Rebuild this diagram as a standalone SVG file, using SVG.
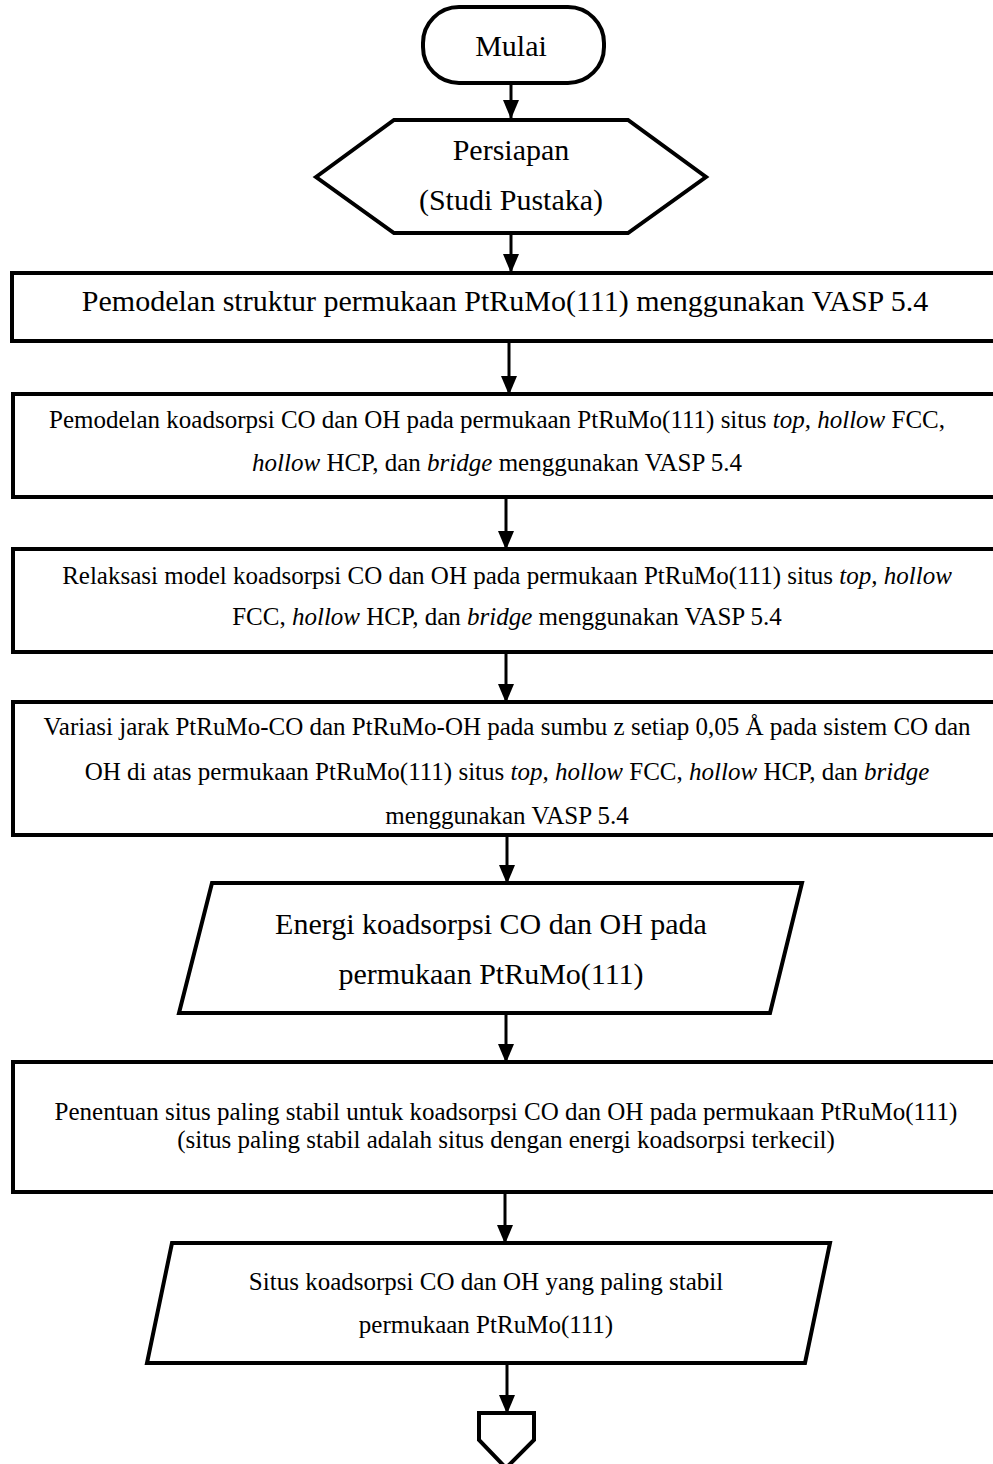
<svg xmlns="http://www.w3.org/2000/svg" width="993" height="1464" viewBox="0 0 993 1464">
<style>
.s{fill:#fff;stroke:#000;stroke-width:4;stroke-linejoin:miter}
.t{font-family:"Liberation Serif","Times New Roman",serif;fill:#000;text-anchor:middle}
.L{font-size:30px}
.M{font-size:25px}
.i{font-style:italic}
.c{stroke:#000;stroke-width:3;fill:none}
</style>
<defs>
<marker id="ah" markerWidth="19" markerHeight="16" refX="18" refY="8" orient="auto" markerUnits="userSpaceOnUse" viewBox="0 0 19 16">
<path d="M0,0 L19,8 L0,16 z" fill="#000"/>
</marker>
</defs>
<rect width="993" height="1464" fill="#fff"/>
<g id="connectors">
<line class="c" x1="511" y1="83" x2="511" y2="118" marker-end="url(#ah)"/>
<line class="c" x1="511" y1="233" x2="511" y2="272" marker-end="url(#ah)"/>
<line class="c" x1="509" y1="341" x2="509" y2="394" marker-end="url(#ah)"/>
<line class="c" x1="506" y1="497" x2="506" y2="549" marker-end="url(#ah)"/>
<line class="c" x1="506" y1="652" x2="506" y2="702" marker-end="url(#ah)"/>
<line class="c" x1="507" y1="835" x2="507" y2="883" marker-end="url(#ah)"/>
<line class="c" x1="506" y1="1013" x2="506" y2="1062" marker-end="url(#ah)"/>
<line class="c" x1="505" y1="1192" x2="505" y2="1243" marker-end="url(#ah)"/>
<line class="c" x1="507" y1="1363" x2="507" y2="1413" marker-end="url(#ah)"/>
</g>
<g id="mulai">
<rect class="s" x="423" y="7" width="181" height="76" rx="36" ry="36"/>
<text class="t L" x="511" y="56">Mulai</text>
</g>
<g id="persiapan">
<polygon class="s" points="316,177 394,120 628,120 706,177 628,233 394,233"/>
<text class="t L" x="511" y="160">Persiapan</text>
<text class="t L" x="511" y="210">(Studi Pustaka)</text>
</g>
<g id="pemodelan-struktur">
<rect class="s" x="12" y="273" width="996" height="68"/>
<text class="t L" x="505" y="311">Pemodelan struktur permukaan PtRuMo(111) menggunakan VASP 5.4</text>
</g>
<g id="pemodelan-koadsorpsi">
<rect class="s" x="13" y="394" width="995" height="103"/>
<text class="t M" x="497" y="428">Pemodelan koadsorpsi CO dan OH pada permukaan PtRuMo(111) situs <tspan class="i">top, hollow</tspan> FCC,</text>
<text class="t M" x="497" y="471"><tspan class="i">hollow</tspan> HCP, dan <tspan class="i">bridge</tspan> menggunakan VASP 5.4</text>
</g>
<g id="relaksasi">
<rect class="s" x="13" y="549" width="995" height="103"/>
<text class="t M" x="507" y="584">Relaksasi model koadsorpsi CO dan OH pada permukaan PtRuMo(111) situs <tspan class="i">top, hollow</tspan></text>
<text class="t M" x="507" y="625">FCC, <tspan class="i">hollow</tspan> HCP, dan <tspan class="i">bridge</tspan> menggunakan VASP 5.4</text>
</g>
<g id="variasi">
<rect class="s" x="13" y="702" width="995" height="133"/>
<text class="t M" x="507" y="735">Variasi jarak PtRuMo-CO dan PtRuMo-OH pada sumbu z setiap 0,05 Å pada sistem CO dan</text>
<text class="t M" x="507" y="780">OH di atas permukaan PtRuMo(111) situs <tspan class="i">top, hollow</tspan> FCC, <tspan class="i">hollow</tspan> HCP, dan <tspan class="i">bridge</tspan></text>
<text class="t M" x="507" y="824">menggunakan VASP 5.4</text>
</g>
<g id="energi">
<polygon class="s" points="212,883 802,883 770,1013 179,1013"/>
<text class="t L" x="491" y="934">Energi koadsorpsi CO dan OH pada</text>
<text class="t L" x="491" y="984">permukaan PtRuMo(111)</text>
</g>
<g id="penentuan">
<rect class="s" x="13" y="1062" width="995" height="130"/>
<text class="t M" x="506" y="1120">Penentuan situs paling stabil untuk koadsorpsi CO dan OH pada permukaan PtRuMo(111)</text>
<text class="t M" x="506" y="1148">(situs paling stabil adalah situs dengan energi koadsorpsi terkecil)</text>
</g>
<g id="situs">
<polygon class="s" points="172,1243 830,1243 805,1363 147,1363"/>
<text class="t M" x="486" y="1290">Situs koadsorpsi CO dan OH yang paling stabil</text>
<text class="t M" x="486" y="1333">permukaan PtRuMo(111)</text>
</g>
<g id="offpage">
<polygon class="s" points="479,1413 534,1413 534,1440 506,1468 479,1440"/>
</g>
</svg>
